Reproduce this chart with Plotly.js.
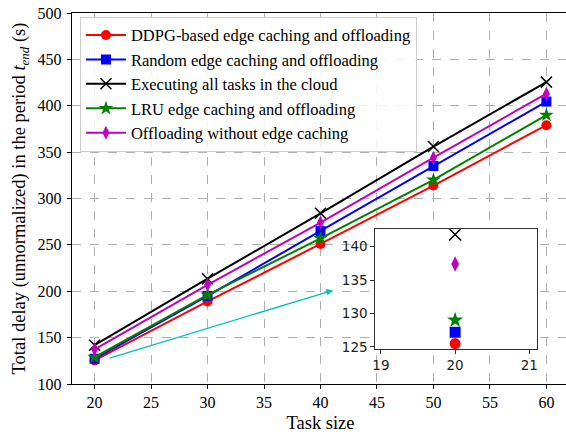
<!DOCTYPE html>
<html>
<head>
<meta charset="utf-8">
<script src="https://cdn.plot.ly/plotly-3.0.1.min.js"></script>
<style>html,body{margin:0;padding:0;overflow:hidden;background:#fff;}</style>
</head>
<body>
<div id="chart"></div>
<script>
const taskSize = [20, 30, 40, 50, 60];
const ddpg    = [125.5, 189, 251, 314, 379];
const random  = [127.2, 195, 265, 335, 404.5];
const cloud   = [141.8, 213.5, 284, 356, 425.5];
const lru     = [129.0, 196, 257, 320, 390];
const noCache = [137.4, 207, 274, 344, 413];

const names = [
  'DDPG-based edge caching and offloading',
  'Random edge caching and offloading',
  'Executing all tasks in the cloud',
  'LRU edge caching and offloading',
  'Offloading without edge caching'
];
const series = [ddpg, random, cloud, lru, noCache];
const colors = ['#ff0000', '#0000ff', '#000000', '#008000', '#bf00bf'];
const symbols = ['circle', 'square', 'x-thin-open', 'star', 'diamond-tall'];
const sizes = [10, 10, 11, 11, 10];

const insetX = 20;

const traces = [];
series.forEach((s, i) => {
  traces.push({
    x: taskSize, y: s, name: names[i], type: 'scatter', mode: 'lines+markers',
    xaxis: 'x', yaxis: 'y',
    line: {color: colors[i], width: 2},
    marker: {symbol: symbols[i], size: sizes[i], color: colors[i],
             line: {width: symbols[i] === 'x-thin-open' ? 1.5 : 0, color: colors[i]}}
  });
});
series.forEach((s, i) => {
  traces.push({
    x: [insetX], y: [s[0]], type: 'scatter', mode: 'markers', showlegend: false,
    xaxis: 'x2', yaxis: 'y2',
    marker: {symbol: symbols[i], size: sizes[i] + 1, color: colors[i],
             line: {width: symbols[i] === 'x-thin-open' ? 1.5 : 0, color: colors[i]}}
  });
});

const serif = "'Liberation Serif', 'Times New Roman', serif";
const sans = "'DejaVu Sans', sans-serif";

const layout = {
  width: 569, height: 435,
  margin: {l: 72, r: 0, t: 13, b: 51},
  paper_bgcolor: '#fff', plot_bgcolor: '#fff',
  font: {family: serif, color: '#000', size: 15},
  showlegend: true,
  legend: {
    x: 0.016, y: 0.990, xanchor: 'left', yanchor: 'top',
    bgcolor: 'rgba(255,255,255,0.85)', bordercolor: '#cccccc', borderwidth: 1,
    font: {family: serif, size: 16.5, color: '#000'},
    itemwidth: 40
  },
  xaxis: {
    domain: [0, 1], range: [18, 62], dtick: 5, tick0: 0,
    showline: true, linecolor: '#000', linewidth: 1.2, mirror: true,
    ticks: 'outside', ticklen: 4, tickcolor: '#000',
    showgrid: true, gridcolor: '#b0b0b0', griddash: 'dash', gridwidth: 1,
    zeroline: false,
    tickfont: {family: serif, size: 16},
    title: {text: 'Task size', font: {family: serif, size: 18.5}, standoff: 5}
  },
  yaxis: {
    domain: [0, 1], range: [100, 500], dtick: 50,
    showline: true, linecolor: '#000', linewidth: 1.2, mirror: true,
    ticks: 'outside', ticklen: 4, tickcolor: '#000', ticklabelstandoff: 2,
    showgrid: true, gridcolor: '#b0b0b0', griddash: 'dash', gridwidth: 1,
    zeroline: false,
    tickfont: {family: serif, size: 16},
    title: {text: 'Total delay (unnormalized) in the period <i>t</i><sub><i>end</i></sub> (s)',
            font: {family: serif, size: 18.5}, standoff: 7}
  },
  xaxis2: {
    domain: [0.6097, 0.9350], anchor: 'y2', range: [18.92, 21.1],
    tickvals: [19, 20, 21], showgrid: false, zeroline: false,
    showline: true, linecolor: '#333', linewidth: 1.2, mirror: true,
    ticks: 'outside', ticklen: 3.5, tickcolor: '#333',
    tickfont: {family: sans, size: 13.5, color: '#222'}
  },
  yaxis2: {
    domain: [0.0944, 0.4173], anchor: 'x2', range: [124.7, 142.6],
    tickvals: [125, 130, 135, 140], showgrid: false, zeroline: false,
    showline: true, linecolor: '#333', linewidth: 1.2, mirror: true,
    ticks: 'outside', ticklen: 3.5, tickcolor: '#333',
    tickfont: {family: sans, size: 13.5, color: '#222'}
  },
  shapes: [{
    type: 'rect', xref: 'x2 domain', yref: 'y2 domain', x0: 0, x1: 1, y0: 0, y1: 1,
    fillcolor: '#ffffff', line: {width: 0}, layer: 'below'
  }],
  annotations: [{
    x: 41.1, y: 201, xref: 'x', yref: 'y',
    ax: 21.2, ay: 127.5, axref: 'x', ayref: 'y',
    text: '', showarrow: true, arrowhead: 2, arrowsize: 1, arrowwidth: 1.3,
    arrowcolor: '#00bfbf', standoff: 0, startstandoff: 0
  }]
};

Plotly.newPlot('chart', traces, layout, {displayModeBar: false, staticPlot: true});
</script>
</body>
</html>
